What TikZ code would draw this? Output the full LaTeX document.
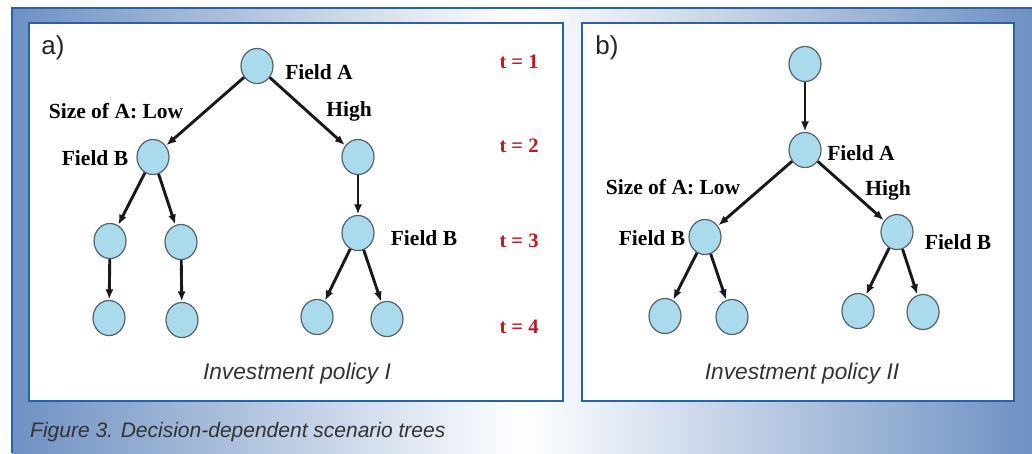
\documentclass[tikz,border=0pt]{standalone}
\usepackage{fontspec}
\setmainfont{Liberation Serif}
\setsansfont{Liberation Sans}
\usetikzlibrary{shapes.geometric,arrows.meta}
\definecolor{frameblue}{HTML}{6E91C2}
\definecolor{edgeblue}{HTML}{2A62A8}
\definecolor{nodefill}{HTML}{A9DBEC}
\definecolor{nodeline}{HTML}{56626C}
\definecolor{tred}{HTML}{C4161C}
\definecolor{captiongrey}{HTML}{333333}
\tikzset{
  scen/.style={ellipse, draw=nodeline, line width=1.2pt, fill=nodefill,
    minimum width=32pt, minimum height=35pt, inner sep=0pt},
  branch/.style={draw=black!90, line width=2.9pt,
    -{Latex[length=10pt,width=8pt]}, shorten >=0.5pt},
  lbl/.style={inner sep=0pt, font=\fontsize{21.5}{24}\selectfont\bfseries},
  tlbl/.style={inner sep=0pt, font=\fontsize{20.5}{24}\selectfont\bfseries, text=tred},
  panel/.style={draw=edgeblue, line width=1.3pt, fill=white},
  policy/.style={inner sep=0pt, font=\sffamily\itshape\fontsize{22.7}{26}\selectfont, text=captiongrey},
  captxt/.style={inner sep=0pt, font=\sffamily\itshape\fontsize{21}{24}\selectfont, text=captiongrey},
  tag/.style={inner sep=0pt, font=\sffamily\fontsize{26}{30}\selectfont, text=black!85}
}
\begin{document}
\begin{tikzpicture}[x=1pt,y=-1pt]
\useasboundingbox (0,0) rectangle (1032,453);
% blue gradient frame
\shade[left color=frameblue, right color=frameblue, middle color=white] (12,8) rectangle (1032,453);
\draw[edgeblue, line width=1.2pt] (12,453) -- (12,8) -- (1032,8);
% panels
\draw[panel] (29,23) rectangle (563,401);
\draw[panel] (582,23) rectangle (1014,401);

% ---- panel a: investment policy I ----
\node[tag] (taga) at (53,48) {a)};
\node[scen] (a1) at (257,66) {};
\node[scen] (a2) at (153,157) {};
\node[scen] (a3) at (358,157) {};
\node[scen] (a4) at (110,241) {};
\node[scen] (a5) at (181,242) {};
\node[scen] (a6) at (358,233) {};
\node[scen] (a7) at (109,318) {};
\node[scen] (a8) at (182,320) {};
\node[scen] (a9) at (317,317) {};
\node[scen] (a10) at (387,319) {};
\draw[branch] (a1) -- (a2);
\draw[branch] (a1) -- (a3);
\draw[branch] (a2) -- (a4);
\draw[branch] (a2) -- (a5);
\draw[branch] (a4) -- (a7);
\draw[branch] (a5) -- (a8);
\draw[branch] (a3) -- (a6);
\draw[branch] (a6) -- (a9);
\draw[branch] (a6) -- (a10);
\node[lbl] (afa) at (319,72) {Field A};
\node[lbl] (alow) at (116,111) {Size of A: Low};
\node[lbl] (ahigh) at (349,111) {High};
\node[lbl] (afb1) at (95,158) {Field B};
\node[lbl] (afb2) at (424,238) {Field B};
\node[tlbl] (t1) at (519,62) {t = 1};
\node[tlbl] (t2) at (519,146) {t = 2};
\node[tlbl] (t3) at (519,241) {t = 3};
\node[tlbl] (t4) at (519,327) {t = 4};
\node[policy] (pola) at (297,374) {Investment policy I};

% ---- panel b: investment policy II ----
\node[tag] (tagb) at (607,48) {b)};
\node[scen] (b1) at (805,64) {};
\node[scen] (b2) at (805,150) {};
\node[scen] (b3) at (705,237) {};
\node[scen] (b4) at (897,232) {};
\node[scen] (b5) at (665,316) {};
\node[scen] (b6) at (732,317) {};
\node[scen] (b7) at (858,311) {};
\node[scen] (b8) at (923,312) {};
\draw[branch] (b1) -- (b2);
\draw[branch] (b2) -- (b3);
\draw[branch] (b2) -- (b4);
\draw[branch] (b3) -- (b5);
\draw[branch] (b3) -- (b6);
\draw[branch] (b4) -- (b7);
\draw[branch] (b4) -- (b8);
\node[lbl] (bfa) at (861,153) {Field A};
\node[lbl] (blow) at (673,187) {Size of A: Low};
\node[lbl] (bhigh) at (888,190) {High};
\node[lbl] (bfb1) at (652,238) {Field B};
\node[lbl] (bfb2) at (958,242) {Field B};
\node[policy] (polb) at (802,374) {Investment policy II};

% caption
\node[captxt, anchor=west] (cap) at (30,432) {Figure 3. Decision-dependent scenario trees};
\end{tikzpicture}
\end{document}
